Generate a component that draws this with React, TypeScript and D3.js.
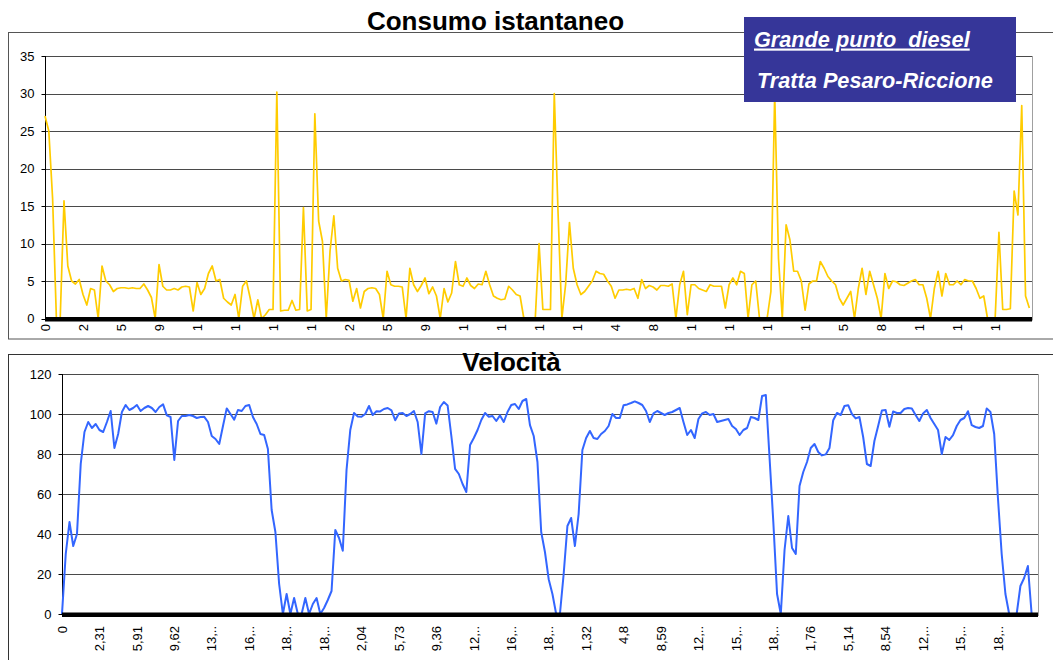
import React from 'react';
import * as d3 from 'd3';

// Consumo istantaneo (one value per sample, label every 10 samples)
const consumo: number[] = [
  27, 25, 16, 0, 0, 15.7, 7, 5, 4.6, 5.2,
  3.2, 1.8, 4, 3.8, 0, 7, 5, 4.5, 3.6, 4,
  4.1, 4.1, 4.0, 4.1, 4.0, 4.0, 4.6, 3.8, 2.8, 0,
  7.2, 4.3, 3.8, 3.8, 4.0, 3.8, 4.2, 4.3, 4.2, 1.0,
  4.8, 3.2, 4.0, 6.0, 7.0, 5.0, 5.2, 2.7, 2.2, 1.8,
  3.2, 0, 4.3, 5.0, 2.7, 0, 2.5, 0, 0.5, 1.2,
  1.2, 30.2, 1.0, 1.1, 1.1, 2.4, 1.1, 1.2, 14.8, 1.0,
  1.2, 27.3, 13, 10.3, 0, 9, 13.7, 6.7, 5.0, 5.2,
  5.1, 2.3, 4.0, 1.4, 3.6, 4.0, 4.1, 4.0, 3.2, 0,
  6.3, 4.5, 4.3, 4.3, 4.2, 0, 6.7, 4.5, 3.6, 4.4,
  5.4, 3.3, 4.2, 3.0, 0, 4.0, 2.2, 3.4, 7.6, 4.5,
  4.3, 5.4, 4.4, 4.0, 4.6, 4.5, 6.3, 4.5, 3.0, 2.7,
  2.5, 2.6, 4.3, 3.8, 3.2, 3.0, 0, 0, 0, 0,
  10, 1.2, 1.2, 1.2, 30, 14, 0, 4.6, 12.8, 6.7,
  4.5, 3.2, 3.6, 4.3, 5.0, 6.3, 6.0, 5.9, 5.0, 4.3,
  2.7, 3.8, 3.8, 3.9, 3.8, 4.0, 2.7, 5.2, 4.0, 4.4,
  4.2, 3.8, 4.4, 4.4, 4.3, 4.6, 0, 4.5, 6.3, 0.5,
  4.5, 4.5, 4.0, 3.8, 3.6, 4.5, 4.3, 4.3, 4.3, 1.4,
  4.5, 5.4, 4.5, 6.3, 6.0, 0, 4.5, 5.0, 0, 0,
  0, 3.6, 30, 8.0, 0, 12.5, 10.5, 6.3, 6.3, 5.0,
  1.1, 4.6, 5.0, 5.0, 7.6, 6.7, 5.6, 5.0, 4.5, 2.7,
  1.8, 2.7, 3.6, 0, 4.0, 6.7, 3.2, 6.3, 4.5, 2.7,
  0, 6.0, 4.0, 5.0, 4.9, 4.5, 4.4, 4.7, 5.0, 5.2,
  4.5, 4.5, 2.7, 0, 4.0, 6.3, 3.0, 6.0, 4.5, 4.5,
  5.0, 4.5, 5.2, 5.0, 5.0, 4.0, 2.7, 3.0, 0, 0,
  0, 11.5, 1.2, 1.2, 1.3, 17, 13.8, 28.4, 3, 1.4,
];

// Velocità
const velocita: number[] = [
  0, 30, 46, 34, 40, 75, 91, 96, 93, 95,
  92, 91, 96, 101.5, 83, 90, 101, 104.5, 102, 103,
  104.5, 101.5, 103, 104, 103, 101, 103.5, 104.8, 99.3, 98.5,
  77, 96.5, 99, 99, 99.5, 99, 98, 98.5, 98.6, 96,
  89, 87.5, 85, 94, 102.8, 100, 97.2, 102, 101.5, 104,
  104.5, 98.5, 95, 90, 89.5, 82.5, 52, 41, 15, 0,
  10, 0, 8, 0, 0, 8, 0, 5, 8, 0,
  3, 7, 11.5, 42, 38, 31.6, 72, 92, 100.5, 98.8,
  98.6, 100, 104, 99.5, 101.4, 101.3, 102.5, 103, 101.8, 96.9,
  100.3, 100.5, 99, 100, 101.5, 96, 80, 100.3, 101.4, 101,
  95.2, 103.5, 106, 104.3, 89, 72.6, 70, 65, 61, 84.5,
  88, 92, 97, 100.5, 98.6, 99, 96.5, 99.3, 96, 101,
  104.5, 105, 102.5, 106.5, 107.5, 94.4, 89, 76, 41, 31,
  17.4, 10, 0, 0, 20, 44, 48, 34, 50, 82,
  88, 91.5, 88, 87.5, 90, 91.5, 94, 100, 98, 98,
  104.4, 104.8, 105.5, 106.3, 105.5, 104.5, 101.5, 96, 100.3, 101.5,
  100.5, 99.5, 100.5, 101, 102, 103, 96, 89.5, 92, 88,
  97.5, 100.3, 101, 99.5, 100, 96, 96.5, 97, 97.5, 94,
  92.5, 89.5, 92, 93, 98.5, 98, 97, 109, 109.5, 78,
  46, 10, 0, 32, 49, 33, 30, 64, 71, 76,
  83, 85, 81, 79.3, 79.8, 83, 96.9, 100.5, 99.5, 104,
  104.4, 100, 97.8, 98.5, 88.5, 75, 74, 86.5, 94, 101.8,
  102, 93.6, 101.3, 100.5, 100.5, 102.5, 103, 102.8, 99.5, 96.5,
  100.3, 102, 98, 95, 92, 80, 88.5, 87, 89.4, 94,
  97, 98, 101.4, 94.4, 93.5, 93, 94, 102.8, 101, 90,
  58, 30, 10, 0, 0, 0, 14, 18, 24, 0,
  0,
];

const consumoTicks = [0, 5, 10, 15, 20, 25, 30, 35];
const velocitaTicks = [0, 20, 40, 60, 80, 100, 120];

const consumoLabels = ['0', '2', '5', '9', '1', '1', '1', '1', '2', '5', '9', '1', '1', '1', '1', '4', '8', '1', '1', '1', '1', '5', '8', '1', '1', '1'];
const velocitaLabels = ['0', '2,31', '5,91', '9,62', '13,..', '16,..', '18,..', '18,..', '2,04', '5,73', '9,36', '12,..', '16,..', '18,..', '1,32', '4,8', '8,59', '12,..', '15,..', '18,..', '1,76', '5,14', '8,54', '12,..', '15,..', '18,..'];

const LABEL_STEP = 10;
const FONT = "'Liberation Sans', Arial, sans-serif";

type PanelProps = {
  data: number[];
  ticks: number[];
  labels: string[];
  x0: number; x1: number; xMax: number;
  y0: number; y1: number; yMax: number;
  color: string; width: number;
  labelY: number;
};

function Panel(p: PanelProps) {
  const x = d3.scaleLinear().domain([0, p.xMax]).range([p.x0, p.x1]);
  const y = d3.scaleLinear().domain([0, p.yMax]).range([p.y0, p.y1]);
  const line = d3.line<number>().x((_, i) => x(i)).y((d) => y(d));
  const ax = Math.round(p.x0) + 0.5;
  return (
    <g>
      {p.ticks.filter((t) => t > 0).map((t) => (
        <line key={'g' + t} x1={p.x0} x2={p.x1} y1={Math.round(y(t)) + 0.5} y2={Math.round(y(t)) + 0.5} stroke="#4a4a4a" strokeWidth={1} />
      ))}
      <line x1={p.x1 + 0.5} x2={p.x1 + 0.5} y1={p.y1} y2={p.y0 + 2} stroke="#a0a0a0" strokeWidth={1} />
      {p.ticks.map((t) => (
        <g key={'t' + t}>
          <line x1={ax - 4} x2={ax} y1={Math.round(y(t)) + 0.5} y2={Math.round(y(t)) + 0.5} stroke="#000" strokeWidth={1} />
          <text x={ax - 11} y={y(t)} dy="0.36em" textAnchor="end" fontSize={13} fontFamily={FONT} fill="#000">{t}</text>
        </g>
      ))}
      <line x1={ax} x2={ax} y1={p.y1} y2={p.y0} stroke="#000" strokeWidth={1} />
      <path d={line(p.data) || ''} fill="none" stroke={p.color} strokeWidth={p.width} strokeLinejoin="round" />
      <rect x={p.x0} y={p.y0 - 1.5} width={p.x1 - p.x0} height={4.5} fill="#000" />
      {p.labels.map((l, k) => {
        const lx = x(k * LABEL_STEP);
        return (
          <text key={'l' + k} transform={`translate(${lx},${p.labelY}) rotate(-90)`} dy="0.36em" textAnchor="end" fontSize={13} fontFamily={FONT} fill="#000">{l}</text>
        );
      })}
    </g>
  );
}

export default function App() {
  return (
    <svg width={1053} height={660} style={{ position: 'absolute', left: 0, top: 0, background: '#fff' }}>
      <rect x={0} y={0} width={1053} height={660} fill="#fff" />
      <rect x={8.5} y={32.5} width={1100} height={306.5} fill="none" stroke="#555" strokeWidth={1} />
      <rect x={8.5} y={354.5} width={1100} height={400} fill="none" stroke="#333" strokeWidth={1} />

      <Panel data={consumo} ticks={consumoTicks} labels={consumoLabels}
        x0={45} x1={1032} xMax={259.7} y0={318.5} y1={56} yMax={35}
        color="#FFCC00" width={1.7} labelY={324} />
      <Panel data={velocita} ticks={velocitaTicks} labels={velocitaLabels}
        x0={62} x1={1038} xMax={260.7} y0={614} y1={374} yMax={120}
        color="#3366FF" width={2} labelY={626} />

      <text x={495.5} y={30} textAnchor="middle" fontSize={26} fontWeight="bold" fontFamily={FONT} fill="#000">Consumo istantaneo</text>
      <text x={511.5} y={371} textAnchor="middle" fontSize={26} fontWeight="bold" fontFamily={FONT} fill="#000">Velocità</text>

      <rect x={744} y={17} width={272} height={85} fill="#363699" />
      <text x={754} y={46.5} fontSize={21.7} fontWeight="bold" fontStyle="italic" fontFamily={FONT} fill="#fff" textDecoration="underline" style={{ whiteSpace: 'pre' }}>{'Grande punto  diesel'}</text>
      <text x={757} y={88} fontSize={21.7} fontWeight="bold" fontStyle="italic" fontFamily={FONT} fill="#fff">Tratta Pesaro-Riccione</text>
    </svg>
  );
}
